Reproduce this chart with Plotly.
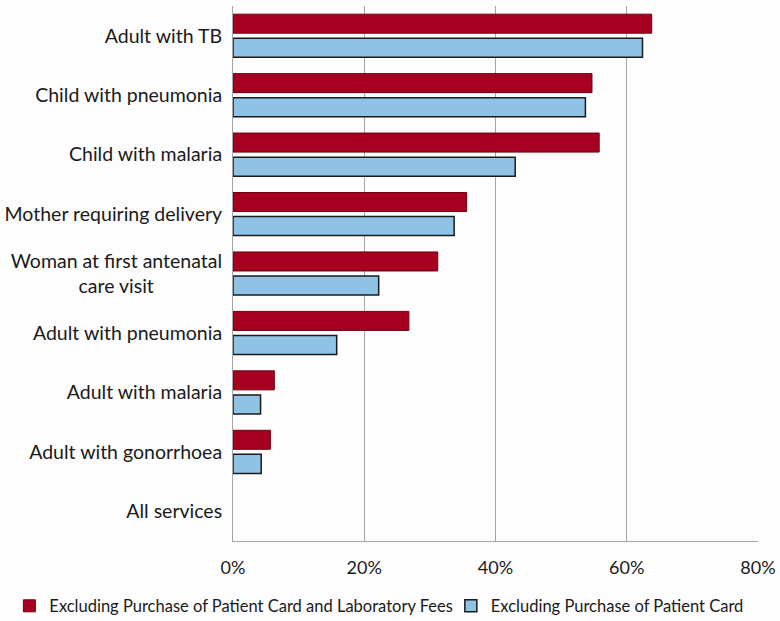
import plotly.graph_objects as go

NB = "\u2002"
categories = ["Adult with TB", "Child with pneumonia", "Child with malaria",
              "Mother requiring delivery",
              "Woman at first antenatal<br>care visit" + NB * 7,
              "Adult with pneumonia", "Adult with malaria", "Adult with gonorrhoea",
              "All services"]
excl_card_lab = [63.8, 54.7, 55.8, 35.6, 31.2, 26.8, 6.3, 5.7, 0]
excl_card = [62.4, 53.7, 43.0, 33.7, 22.2, 15.8, 4.2, 4.3, 0]
tick_vals = [0, 20, 40, 60, 80]
tick_text = ["0%", "20%", "40%", "60%", "80%"]

fig = go.Figure()
fig.add_trace(go.Bar(
    y=categories, x=excl_card_lab, orientation="h",
    name="Excluding Purchase of Patient Card and Laboratory Fees",
    marker=dict(color="#A5001F",
                line=dict(color="#6E0012", width=[1 if v > 0 else 0 for v in excl_card_lab])),
    legend="legend",
))
fig.add_trace(go.Bar(
    y=categories, x=excl_card, orientation="h",
    name="Excluding Purchase of Patient Card",
    marker=dict(color="#8EC3E6",
                line=dict(color="#1A1A1A", width=[1.5 if v > 0 else 0 for v in excl_card])),
    legend="legend2",
))

leg_common = dict(orientation="h", xref="container", yref="container",
                  y=0.024, yanchor="middle", font=dict(size=16.5),
                  itemwidth=30, bgcolor="rgba(0,0,0,0)")

fig.update_layout(
    width=780, height=621,
    barmode="group", bargap=0.19, bargroupgap=0.21,
    plot_bgcolor="#FDFDFD", paper_bgcolor="#FDFDFD",
    margin=dict(l=233, r=22, t=6, b=80, autoexpand=False),
    font=dict(family="Lato, Open Sans, sans-serif", color="#1A1A1A"),
    showlegend=True,
    legend=dict(x=0.012, xanchor="left", **leg_common),
    legend2=dict(x=0.578, xanchor="left", **leg_common),
    xaxis=dict(range=[0, 80], tickvals=tick_vals, ticktext=tick_text,
               showgrid=True, gridcolor="#A6A6A6", gridwidth=1,
               showline=True, linecolor="#A6A6A6", linewidth=1,
               zeroline=False, tickfont=dict(size=18), ticklabelstandoff=10,
               automargin=False, fixedrange=True),
    yaxis=dict(autorange="reversed", showline=True, linecolor="#A6A6A6",
               linewidth=1, tickfont=dict(size=19.5), ticks="",
               ticklabelstandoff=6, automargin=False, fixedrange=True),
)

fig.write_html("out.html", config={"displayModeBar": False},
               post_script="document.body.style.margin='0';document.body.style.padding='0';")
